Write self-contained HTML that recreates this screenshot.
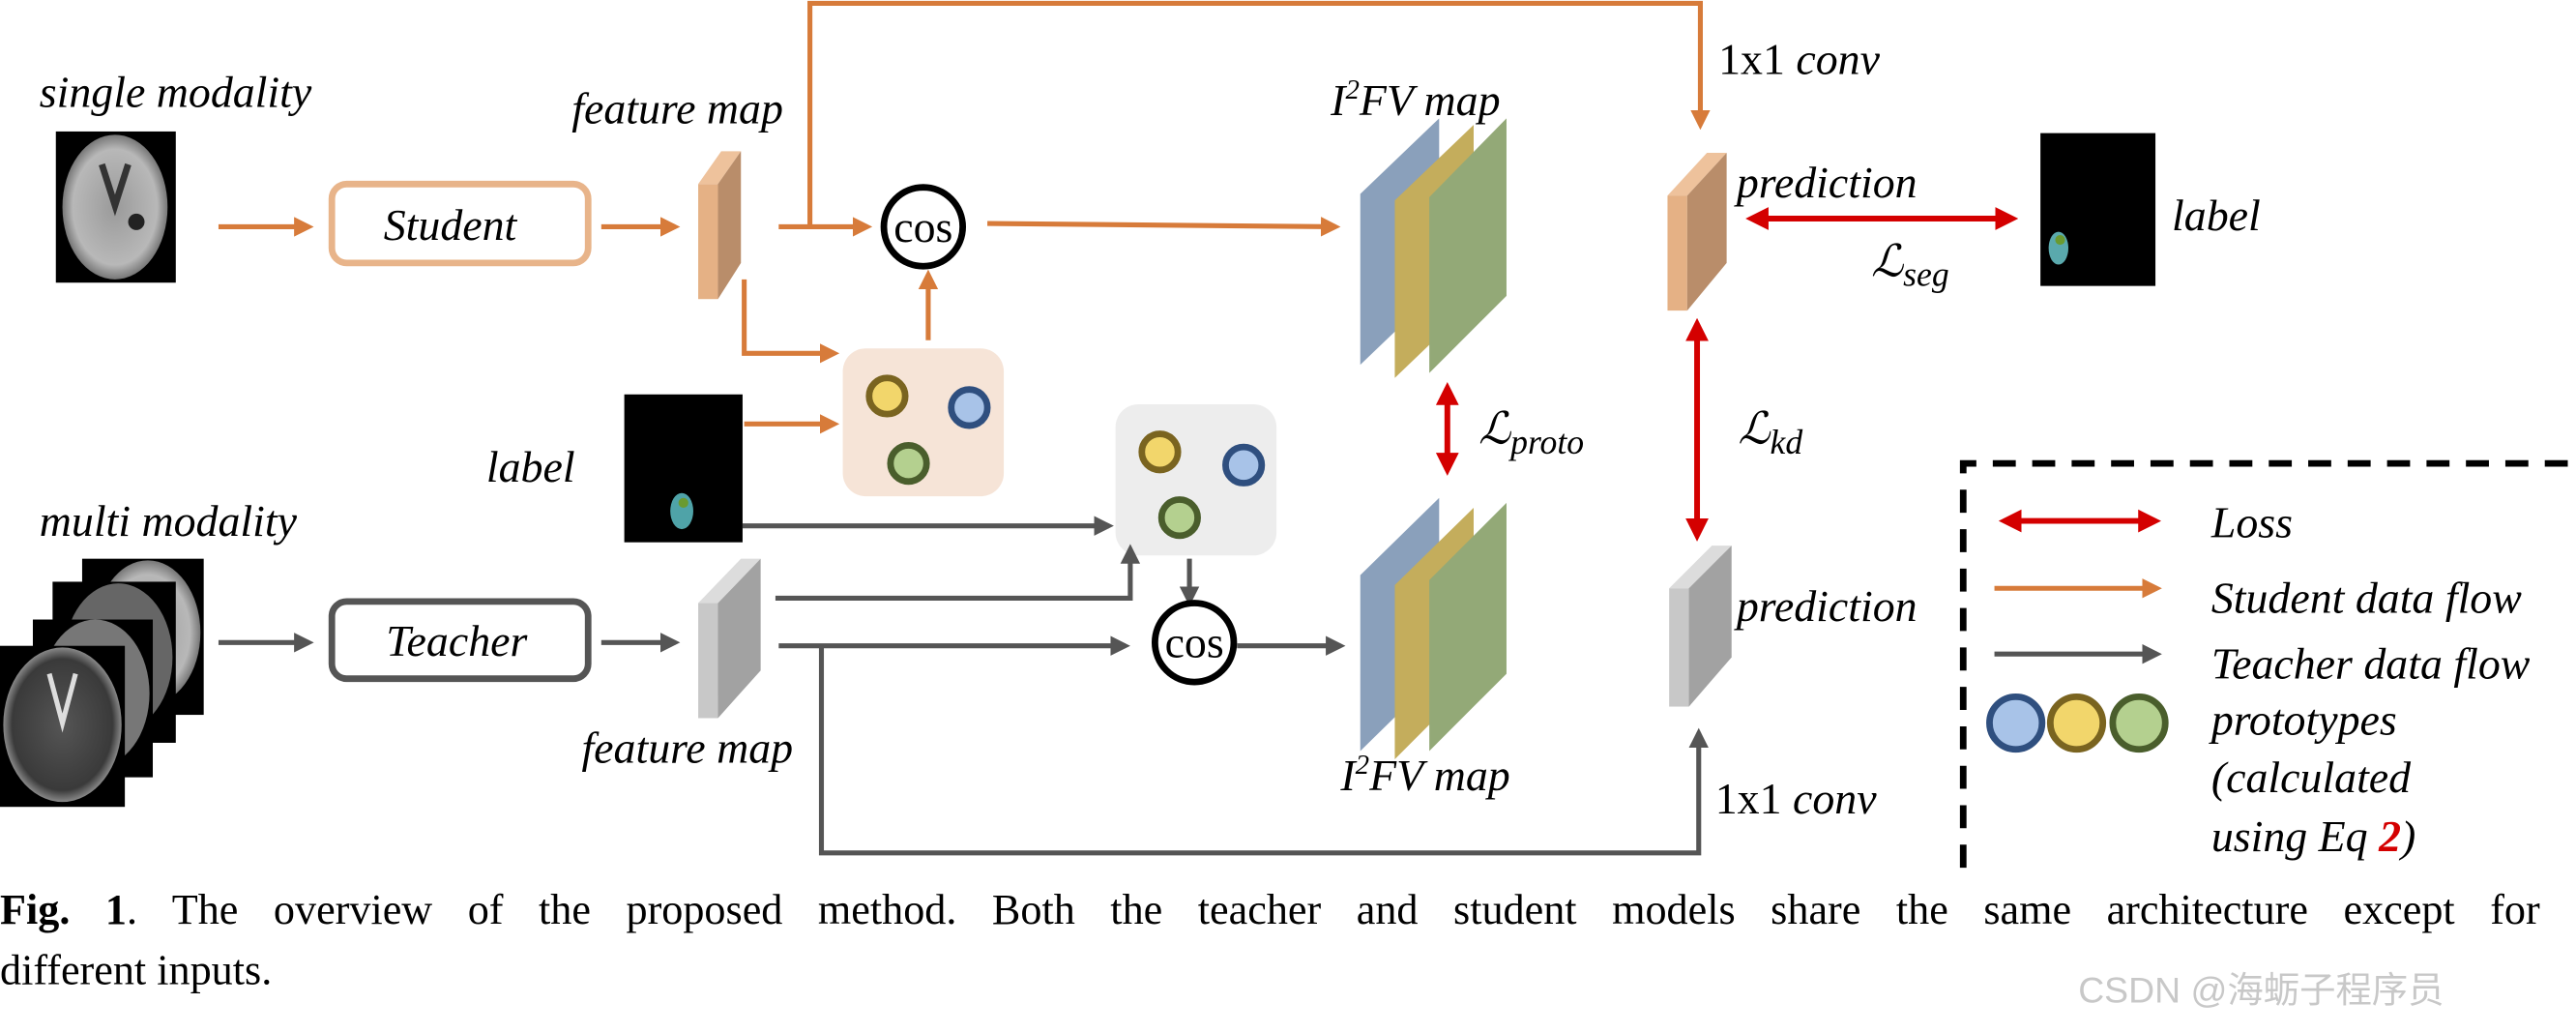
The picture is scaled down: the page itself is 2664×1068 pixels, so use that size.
<!DOCTYPE html>
<html><head><meta charset="utf-8"><style>
html,body{margin:0;padding:0;background:#fff;}
svg{display:block;font-family:"Liberation Serif","DejaVu Serif",serif;}
text{font-family:"Liberation Serif","DejaVu Serif",serif;}
.it{font-style:italic;font-size:27px;fill:#000;}
</style></head><body>
<svg width="2664" height="1068" viewBox="0 0 1568 628.6" xmlns="http://www.w3.org/2000/svg">
<defs>
<marker id="ao" markerWidth="4" markerHeight="4" refX="3" refY="2" orient="auto" markerUnits="strokeWidth"><path d="M0,0 L4,2 L0,4 z" fill="#d77b3a"/></marker>
<marker id="ag" markerWidth="4" markerHeight="4" refX="3" refY="2" orient="auto" markerUnits="strokeWidth"><path d="M0,0 L4,2 L0,4 z" fill="#555"/></marker>
<marker id="ar" markerWidth="4" markerHeight="4" refX="3" refY="2" orient="auto-start-reverse" markerUnits="strokeWidth"><path d="M0,0 L4,2 L0,4 z" fill="#d40000"/></marker>
<radialGradient id="br" cx="50%" cy="50%" r="50%"><stop offset="0" stop-color="#9a9a9a"/><stop offset="0.8" stop-color="#b8b8b8"/><stop offset="1" stop-color="#777"/></radialGradient>
<radialGradient id="br2" cx="50%" cy="50%" r="50%"><stop offset="0" stop-color="#555"/><stop offset="0.85" stop-color="#3a3a3a"/><stop offset="1" stop-color="#888"/></radialGradient>
</defs>

<text class="it" x="24" y="65">single modality</text>
<rect x="34" y="80" width="73" height="92" fill="#000"/>
<ellipse cx="70" cy="126" rx="32" ry="44" fill="url(#br)"/>
<path d="M62 100 L70 125 L78 100" stroke="#333" stroke-width="4" fill="none"/>
<circle cx="83" cy="135" r="5" fill="#222"/>

<line x1="133" y1="138" x2="188" y2="138" stroke="#d77b3a" stroke-width="3" marker-end="url(#ao)"/>
<rect x="202" y="112" width="156" height="48" rx="9" fill="#fff" stroke="#e8b48a" stroke-width="4"/>
<text class="it" x="274" y="146" text-anchor="middle" font-size="30">Student</text>
<line x1="366" y1="138" x2="411" y2="138" stroke="#d77b3a" stroke-width="3" marker-end="url(#ao)"/>

<polygon points="425,112 437,112 451,92 439,92" fill="#eec29c"/>
<rect x="425" y="112" width="12" height="70" fill="#e5b185"/>
<polygon points="437,112 451,92 451,160 437,182" fill="#b98d6a"/>
<text class="it" x="348" y="75">feature map</text>

<polyline points="493,138 493,2 1035,2 1035,76" fill="none" stroke="#d77b3a" stroke-width="3" marker-end="url(#ao)"/>
<line x1="474" y1="138" x2="528" y2="138" stroke="#d77b3a" stroke-width="3" marker-end="url(#ao)"/>
<circle cx="562" cy="138" r="24" fill="#fff" stroke="#000" stroke-width="4"/>
<text x="562" y="147" text-anchor="middle" font-size="27">cos</text>
<line x1="601" y1="136" x2="813" y2="138" stroke="#d77b3a" stroke-width="3" marker-end="url(#ao)"/>
<line x1="565" y1="207" x2="565" y2="167" stroke="#d77b3a" stroke-width="3" marker-end="url(#ao)"/>
<polyline points="453,170 453,215 508,215" fill="none" stroke="#d77b3a" stroke-width="3" marker-end="url(#ao)"/>

<rect x="513" y="212" width="98" height="90" rx="14" fill="#f6e4d7"/>
<circle cx="540" cy="241" r="11" fill="#f2d66b" stroke="#7a6420" stroke-width="4"/>
<circle cx="590" cy="248" r="11" fill="#a8c3e8" stroke="#2f4f7f" stroke-width="4"/>
<circle cx="553" cy="282" r="11" fill="#b4d08f" stroke="#4a5e2c" stroke-width="4"/>

<text class="it" x="296" y="293">label</text>
<rect x="380" y="240" width="72" height="90" fill="#000"/>
<ellipse cx="415" cy="311" rx="7" ry="11" fill="#4fa3a8"/>
<circle cx="416" cy="306" r="3" fill="#6a9a30"/>
<line x1="453" y1="258" x2="508" y2="258" stroke="#d77b3a" stroke-width="3" marker-end="url(#ao)"/>
<line x1="452" y1="320" x2="675" y2="320" stroke="#555" stroke-width="3" marker-end="url(#ag)"/>

<rect x="679" y="246" width="98" height="92" rx="14" fill="#ededed"/>
<circle cx="706" cy="275" r="11" fill="#f2d66b" stroke="#7a6420" stroke-width="4"/>
<circle cx="757" cy="283" r="11" fill="#a8c3e8" stroke="#2f4f7f" stroke-width="4"/>
<circle cx="718" cy="315" r="11" fill="#b4d08f" stroke="#4a5e2c" stroke-width="4"/>

<text class="it" x="24" y="326">multi modality</text>
<rect x="50" y="340" width="74" height="95" fill="#000"/>
<ellipse cx="90" cy="385" rx="32" ry="44" fill="url(#br)"/>
<rect x="32" y="354" width="75" height="98" fill="#000"/>
<ellipse cx="72" cy="400" rx="33" ry="45" fill="#666"/>
<rect x="20" y="377" width="73" height="96" fill="#000"/>
<ellipse cx="58" cy="422" rx="33" ry="45" fill="#777"/>
<rect x="0" y="393" width="76" height="98" fill="#000"/>
<ellipse cx="38" cy="441" rx="36" ry="47" fill="url(#br2)"/>
<path d="M30 410 L38 440 L46 410" stroke="#ddd" stroke-width="3" fill="none"/>

<line x1="133" y1="391" x2="188" y2="391" stroke="#555" stroke-width="3" marker-end="url(#ag)"/>
<rect x="202" y="366" width="156" height="47" rx="9" fill="#fff" stroke="#555" stroke-width="4"/>
<text class="it" x="278" y="399" text-anchor="middle" font-size="30">Teacher</text>
<line x1="366" y1="391" x2="411" y2="391" stroke="#555" stroke-width="3" marker-end="url(#ag)"/>

<polygon points="425,367 437,367 463,340 451,340" fill="#dcdcdc"/>
<rect x="425" y="367" width="12" height="70" fill="#c8c8c8"/>
<polygon points="437,367 463,340 463,408 437,437" fill="#a2a2a2"/>
<text class="it" x="354" y="464">feature map</text>

<polyline points="472,364 688,364 688,334" fill="none" stroke="#555" stroke-width="3" marker-end="url(#ag)"/>
<line x1="474" y1="393" x2="685" y2="393" stroke="#555" stroke-width="3" marker-end="url(#ag)"/>
<line x1="724" y1="340" x2="724" y2="366" stroke="#555" stroke-width="3" marker-end="url(#ag)"/>
<circle cx="727" cy="391" r="24" fill="#fff" stroke="#000" stroke-width="4"/>
<text x="727" y="400" text-anchor="middle" font-size="27">cos</text>
<line x1="753" y1="393" x2="816" y2="393" stroke="#555" stroke-width="3" marker-end="url(#ag)"/>
<polyline points="500,393 500,519 1034,519 1034,446" fill="none" stroke="#555" stroke-width="3" marker-end="url(#ag)"/>

<polygon points="828,118 876,72 876,176 828,222" fill="#8aa0bb"/>
<polygon points="849,122 897,76 897,184 849,230" fill="#c4ad5c"/>
<polygon points="870,120 917,72 917,180 870,227" fill="#93a977"/>
<text class="it" x="810" y="70">I<tspan font-size="17" dy="-10">2</tspan><tspan dy="10">FV map</tspan></text>
<polygon points="828,350 876,303 876,410 828,457" fill="#8aa0bb"/>
<polygon points="849,356 897,309 897,414 849,462" fill="#c4ad5c"/>
<polygon points="870,353 917,306 917,410 870,457" fill="#93a977"/>
<text class="it" x="816" y="481">I<tspan font-size="17" dy="-10">2</tspan><tspan dy="10">FV map</tspan></text>

<line x1="881" y1="236" x2="881" y2="286" stroke="#d40000" stroke-width="3.5" marker-start="url(#ar)" marker-end="url(#ar)"/>
<text class="it" x="900" y="270">ℒ<tspan font-size="21" dy="6">proto</tspan></text>

<polygon points="1015,119 1027,119 1051,93 1039,93" fill="#eec29c"/>
<rect x="1015" y="119" width="12" height="70" fill="#e5b185"/>
<polygon points="1027,119 1051,93 1051,160 1027,189" fill="#b98d6a"/>
<text font-size="27" x="1046" y="45">1x1 <tspan font-style="italic">conv</tspan></text>
<text class="it" x="1057" y="120">prediction</text>
<line x1="1066" y1="133" x2="1225" y2="133" stroke="#d40000" stroke-width="3.5" marker-start="url(#ar)" marker-end="url(#ar)"/>
<text class="it" x="1139" y="168">ℒ<tspan font-size="21" dy="6">seg</tspan></text>
<rect x="1242" y="81" width="70" height="93" fill="#000"/>
<ellipse cx="1253" cy="151" rx="6" ry="10" fill="#5aa9ad"/>
<circle cx="1254" cy="146" r="3" fill="#6a9a30"/>
<text class="it" x="1322" y="140">label</text>

<line x1="1033" y1="197" x2="1033" y2="326" stroke="#d40000" stroke-width="3.5" marker-start="url(#ar)" marker-end="url(#ar)"/>
<text class="it" x="1058" y="270">ℒ<tspan font-size="21" dy="6">kd</tspan></text>

<polygon points="1016,358 1028,358 1054,332 1042,332" fill="#dcdcdc"/>
<rect x="1016" y="358" width="12" height="72" fill="#c8c8c8"/>
<polygon points="1028,358 1054,332 1054,400 1028,430" fill="#a2a2a2"/>
<text class="it" x="1057" y="378">prediction</text>
<text font-size="27" x="1044" y="495">1x1 <tspan font-style="italic">conv</tspan></text>

<polyline points="1195,528 1195,282 1568,282" fill="none" stroke="#000" stroke-width="4" stroke-dasharray="14,10"/>
<line x1="1220" y1="317" x2="1312" y2="317" stroke="#d40000" stroke-width="3.5" marker-start="url(#ar)" marker-end="url(#ar)"/>
<text class="it" x="1346" y="327">Loss</text>
<line x1="1214" y1="358" x2="1313" y2="358" stroke="#d77b3a" stroke-width="3" marker-end="url(#ao)"/>
<text class="it" x="1346" y="373">Student data flow</text>
<line x1="1214" y1="398" x2="1313" y2="398" stroke="#555" stroke-width="3" marker-end="url(#ag)"/>
<text class="it" x="1346" y="413">Teacher data flow</text>
<circle cx="1227" cy="440" r="16" fill="#a8c3e8" stroke="#2f4f7f" stroke-width="4"/>
<circle cx="1264" cy="440" r="16" fill="#f2d66b" stroke="#7a6420" stroke-width="4"/>
<circle cx="1302" cy="440" r="16" fill="#b4d08f" stroke="#4a5e2c" stroke-width="4"/>
<text class="it" x="1346" y="447">prototypes</text>
<text class="it" x="1346" y="482">(calculated</text>
<text class="it" x="1346" y="518">using Eq <tspan fill="#d40000" font-weight="bold">2</tspan>)</text>

<text x="0" y="562" font-size="26" word-spacing="15"><tspan font-weight="bold">Fig. 1</tspan>.  The overview of the proposed method.  Both the teacher and student models share the same architecture except for</text>
<text x="0" y="599" font-size="26">different inputs.</text>
<text x="1265" y="610" font-size="22" fill="#c8c8c8" style="font-family:'Liberation Sans','Noto Sans CJK SC',sans-serif">CSDN @海蛎子程序员</text>
</svg>
</body></html>
